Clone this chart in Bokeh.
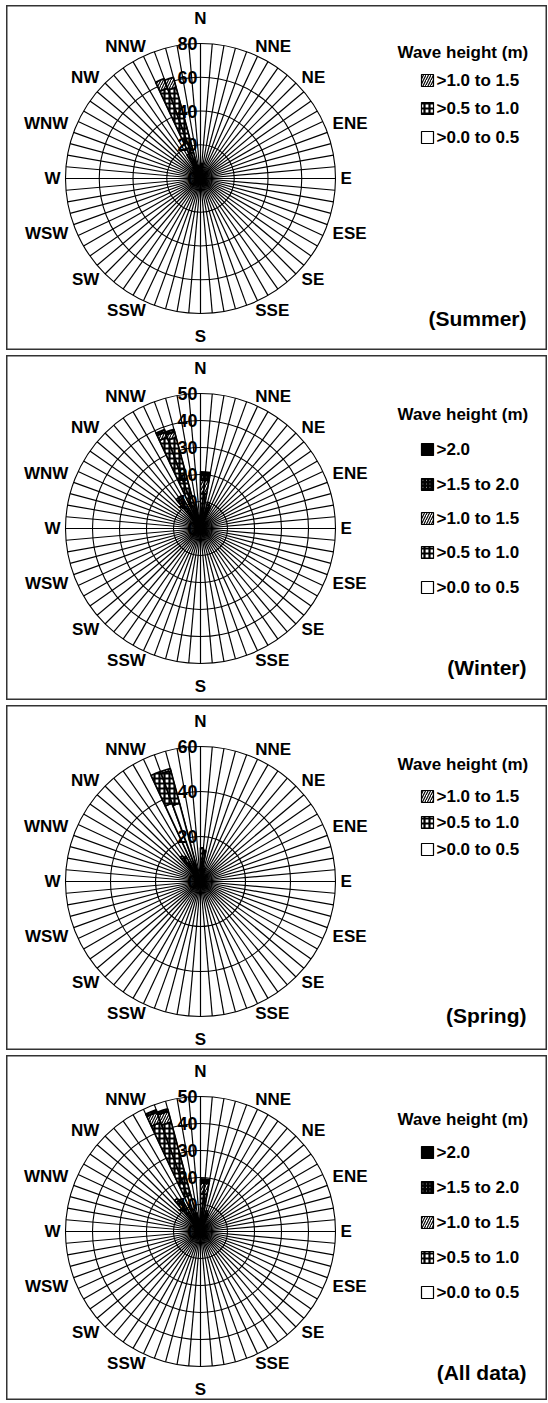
import numpy as np
from bokeh.plotting import figure
from bokeh.layouts import column
from bokeh.models import Range1d
from bokeh.core.properties import value
from bokeh.embed import file_html
from bokeh.resources import INLINE

# ---------------- data ----------------
compass = ["N", "NNE", "NE", "ENE", "E", "ESE", "SE", "SSE",
           "S", "SSW", "SW", "WSW", "W", "WNW", "NW", "NNW"]
sector_deg = 5  # width of one direction sector (degrees)

# start bearing (deg clockwise from N) of each non-empty sector, frequency per class
summer_dirs = [325, 330, 335, 340, 345, 5, 10]
summer_00_05 = [6, 10, 16, 16, 8, 6, 5]
summer_05_10 = [2, 6, 41, 40, 0, 3, 0]
summer_10_15 = [0, 0, 6, 6, 0, 0, 0]

winter_dirs = [320, 325, 335, 340, 345, 0, 5, 15, 20]
winter_00_05 = [8, 8, 10, 10, 6, 5, 5, 4, 4]
winter_05_10 = [5, 5, 26, 25, 3, 8, 8, 5, 4]
winter_10_15 = [1, 1, 2, 2, 0, 5, 5, 1, 1]
winter_15_20 = [0, 0, 1, 1, 0, 2, 2, 0, 0]
winter_20 = [0, 0, 0, 0, 0, 1, 1, 0, 0]

spring_dirs = [320, 325, 335, 340, 0, 5, 15]
spring_00_05 = [8, 8, 37, 36, 10, 9, 5]
spring_05_10 = [6, 5, 15, 15, 5, 5, 1]
spring_10_15 = [0, 0, 0, 1, 0, 0, 0]

all_dirs = [320, 325, 335, 340, 345, 0, 5, 15, 20]
all_00_05 = [8, 8, 14, 14, 5, 6, 6, 4, 4]
all_05_10 = [6, 5, 29, 28, 2, 8, 8, 4, 3]
all_10_15 = [1, 1, 4, 4, 0, 4, 4, 0, 0]
all_15_20 = [0, 0, 1, 1, 0, 1, 1, 0, 0]
all_20 = [0, 0, 0, 0, 0, 0.5, 0.5, 0, 0]

summer_ticks = [0, 20, 40, 60, 80]
winter_ticks = [0, 10, 20, 30, 40, 50]
spring_ticks = [0, 20, 40, 60]
all_ticks = [0, 10, 20, 30, 40, 50]

# ---------------- styles ----------------
FONT = value("Liberation Sans")
STYLE = {
    ">0.0 to 0.5": dict(fill_color="white"),
    ">0.5 to 1.0": dict(fill_color="white", hatch_pattern="+", hatch_scale=5,
                        hatch_weight=2.2, hatch_color="black"),
    ">1.0 to 1.5": dict(fill_color="white", hatch_pattern="/", hatch_scale=5,
                        hatch_weight=1.2, hatch_color="black"),
    ">1.5 to 2.0": dict(fill_color="white", hatch_pattern="\\", hatch_scale=3.5,
                        hatch_weight=1.6, hatch_color="black"),
    ">2.0": dict(fill_color="black"),
}

W, H = 541, 345
CX = 194
RPX = 135.0


def panel(dirs, layers, ticks, season, cy, title_y, item_ys, season_y):
    rmax = ticks[-1]
    s = RPX / rmax  # px per unit

    def dx(px):
        return (px - CX) / s

    def dy(py):
        return (cy - py) / s

    p = figure(width=W, height=H, output_backend="svg", toolbar_location=None,
               x_axis_type=None, y_axis_type=None, min_border=0,
               x_range=Range1d(dx(0), dx(W)), y_range=Range1d(dy(H), dy(0)))
    p.grid.visible = False
    p.outline_line_color = "#333333"
    p.outline_line_width = 2
    p.background_fill_color = "white"
    p.border_fill_color = "white"

    # spokes
    b = np.radians(np.arange(0, 360, sector_deg))
    p.segment(x0=0, y0=0, x1=rmax * np.sin(b), y1=rmax * np.cos(b),
              line_color="black", line_width=1.2)
    # rings
    p.circle(x=0, y=0, radius=[t for t in ticks if t > 0], fill_color=None,
             line_color="black", line_width=1.1)

    # stacked bars
    base = np.zeros(len(dirs))
    for label, vals in layers:
        vals = np.asarray(vals, dtype=float)
        m = vals > 0
        d = np.asarray(dirs, dtype=float)[m]
        start = np.radians(90 - d - sector_deg)
        end = np.radians(90 - d)
        p.annular_wedge(x=0, y=0, inner_radius=base[m], outer_radius=(base + vals)[m],
                        start_angle=start, end_angle=end, line_color="black",
                        line_width=1.7, **STYLE[label])
        base = base + vals

    # radial tick labels
    p.text(x=[0] * len(ticks), y=ticks, text=[str(t) for t in ticks], x_offset=-3,
           text_font=FONT, text_font_style="bold", text_font_size="18px",
           text_align="right", text_baseline="middle", text_color="black")

    # compass labels
    groups = {}
    for i, name in enumerate(compass):
        a = np.radians(i * 22.5)
        sa, ca = np.sin(a), np.cos(a)
        if abs(sa) < 0.1:
            if ca > 0:
                r, al, bl = RPX + 16, "center", "bottom"
            else:
                r, al, bl = RPX + 13, "center", "top"
        else:
            r = RPX + (5 if abs(ca) < 0.1 else 8)
            al, bl = ("left" if sa > 0 else "right"), "middle"
        g = groups.setdefault((al, bl), ([], [], []))
        g[0].append(r * sa / s)
        g[1].append(r * ca / s)
        g[2].append(name)
    for (al, bl), (xs, ys, ts) in groups.items():
        p.text(x=xs, y=ys, text=ts, text_font=FONT, text_font_style="bold",
               text_font_size="17px", text_align=al, text_baseline=bl,
               text_color="black")

    # legend
    p.text(x=[dx(391)], y=[dy(title_y)], text=["Wave height (m)"], text_font=FONT,
           text_font_style="bold", text_font_size="17px", text_align="left",
           text_baseline="middle", text_color="black")
    labels = [lab for lab, _ in layers][::-1]
    for lab, yy in zip(labels, item_ys):
        p.rect(x=[dx(421)], y=[dy(yy)], width=12, height=12, width_units="screen",
               height_units="screen", line_color="black", line_width=1.2, **STYLE[lab])
        p.text(x=[dx(430)], y=[dy(yy)], text=[lab], text_font=FONT,
               text_font_style="bold", text_font_size="17px", text_align="left",
               text_baseline="middle", text_color="black")

    p.text(x=[dx(520)], y=[dy(season_y)], text=[season], text_font=FONT,
           text_font_style="bold", text_font_size="21px", text_align="right",
           text_baseline="middle", text_color="black")
    return p


p1 = panel(summer_dirs,
           [(">0.0 to 0.5", summer_00_05), (">0.5 to 1.0", summer_05_10),
            (">1.0 to 1.5", summer_10_15)],
           summer_ticks, "(Summer)", 173, 47, [75, 103, 132], 313)
p2 = panel(winter_dirs,
           [(">0.0 to 0.5", winter_00_05), (">0.5 to 1.0", winter_05_10),
            (">1.0 to 1.5", winter_10_15), (">1.5 to 2.0", winter_15_20),
            (">2.0", winter_20)],
           winter_ticks, "(Winter)", 173, 59, [94, 129, 163, 197, 232], 312)
p3 = panel(spring_dirs,
           [(">0.0 to 0.5", spring_00_05), (">0.5 to 1.0", spring_05_10),
            (">1.0 to 1.5", spring_10_15)],
           spring_ticks, "(Spring)", 176, 59, [91, 117, 144], 310)
p4 = panel(all_dirs,
           [(">0.0 to 0.5", all_00_05), (">0.5 to 1.0", all_05_10),
            (">1.0 to 1.5", all_10_15), (">1.5 to 2.0", all_15_20),
            (">2.0", all_20)],
           all_ticks, "(All data)", 176, 64, [97, 132, 167, 202, 237], 317)

layout = column(p1, p2, p3, p4, spacing=5, margin=(5, 0, 0, 6))
open("out.html", "w").write(file_html(layout, INLINE))
